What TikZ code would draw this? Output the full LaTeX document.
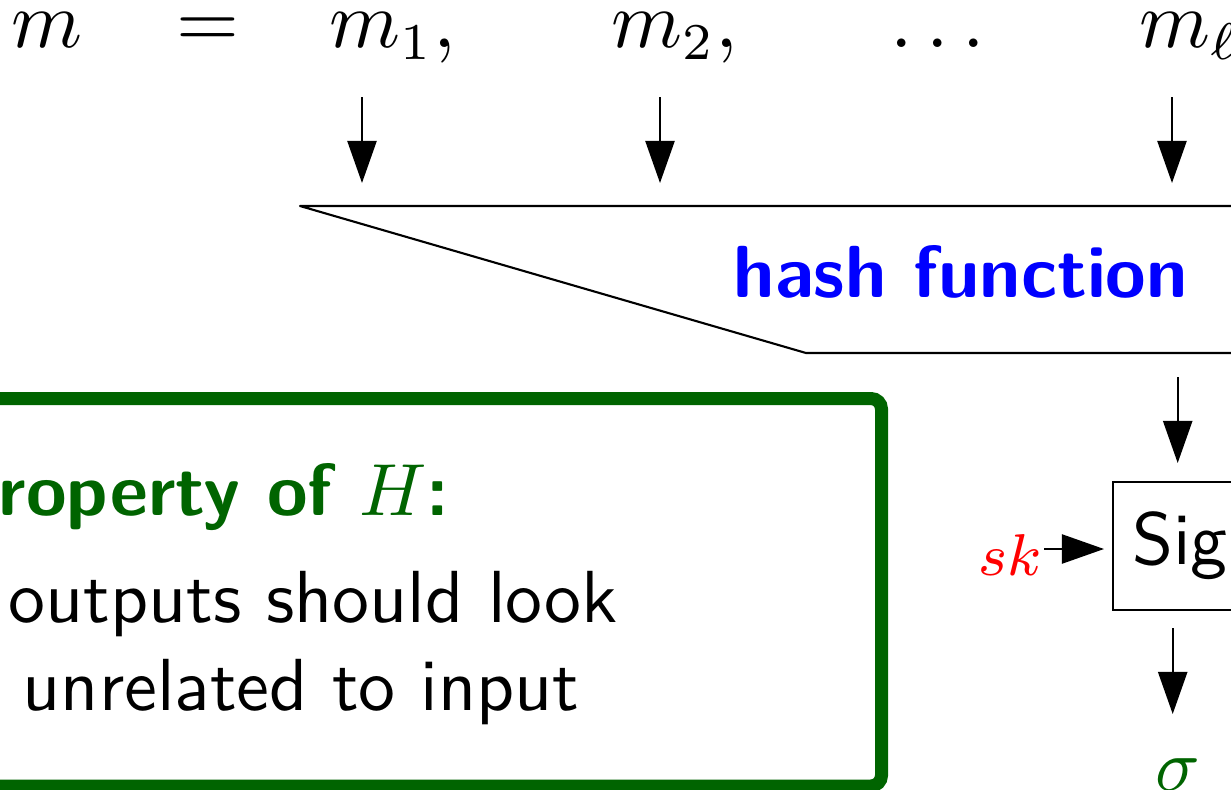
\documentclass[tikz,border=0pt]{standalone}
\usepackage{graphicx}
\usetikzlibrary{arrows.meta}
\definecolor{hgreen}{RGB}{0,100,0}
\newcommand{\zz}[1]{\scalebox{2.1}{#1}}
\newcommand{\topm}[1]{\zz{\fontsize{10.6}{12}\selectfont$#1$}}
\begin{document}
\begin{tikzpicture}[x=0.1mm,y=-0.1mm,
  font=\fontsize{10}{12}\selectfont,
  arr/.style={line width=0.6pt,-{Triangle[length=12pt,width=8.3pt]}},
  lbl/.style={inner sep=0pt,anchor=base west},
  thin line/.style={line width=0.6pt}]
\useasboundingbox (0,0) rectangle (1231,790);
\clip (0,0) rectangle (1231,790);
% top line
\node[lbl] (m) at (11,47) {\topm{m}};
\node[lbl] (eq) at (176,47) {\topm{=}};
\node[lbl] (m1) at (329,47) {\topm{m_1,}};
\node[lbl] (m2) at (611,47) {\topm{m_2,}};
\node[lbl] (dots) at (890,47) {\topm{\ldots}};
\node[lbl] (ml) at (1139,47) {\topm{m_\ell}};
% arrows into hash
\coordinate (a1s) at (362,97);  \coordinate (a1e) at (362,183);
\coordinate (a2s) at (660,97);  \coordinate (a2e) at (660,183);
\coordinate (a3s) at (1172,97); \coordinate (a3e) at (1172,183);
\draw[arr] (a1s) -- (a1e);
\draw[arr] (a2s) -- (a2e);
\draw[arr] (a3s) -- (a3e);
% hash function shape
\coordinate (hTR) at (1300,206);
\coordinate (hTL) at (300,206);
\coordinate (hBL) at (806,353);
\coordinate (hBR) at (1300,353);
\draw[thin line, line join=round] (hTR) -- (hTL) -- (hBL) -- (hBR);
\node[lbl, text=blue] (hash) at (733,297) {\zz{\sffamily\bfseries hash function}};
% Sig box
\node[draw, thin line, anchor=north west, inner sep=0pt, minimum width=38.2pt, minimum height=36.3pt] (sig) at (1111.7,481) {\zz{\sffamily Sig}};
\coordinate (hout) at (1177.7,377);
\coordinate (sigin) at (1177.7,463);
\draw[arr] (hout) -- (sigin);
\node[lbl, text=red] (sk) at (978,575) {\zz{\fontsize{8.5}{10}\selectfont$sk$}};
\coordinate (sks) at (1044,549);
\coordinate (ske) at (1104,549);
\draw[arr] (sks) -- (ske);
\coordinate (sout) at (1172.7,628);
\coordinate (soute) at (1172.7,714);
\draw[arr] (sout) -- (soute);
\node[inner sep=0pt, anchor=base, text=hgreen] (sigma) at (1178,790) {\zz{$\sigma$}};
% property box
\draw[hgreen, line width=3.7pt, rounded corners=3pt] (-60,398.5) -- (881.5,398.5) -- (881.5,786) -- (-60,786);
\node[lbl, text=hgreen] (prop) at (-2,515) {\zz{\sffamily\bfseries roperty of $H$:}};
\node[lbl] (l1) at (8,622) {\zz{\sffamily outputs should look}};
\node[lbl] (l2) at (22,710) {\zz{\sffamily unrelated to input}};
\end{tikzpicture}
\end{document}
